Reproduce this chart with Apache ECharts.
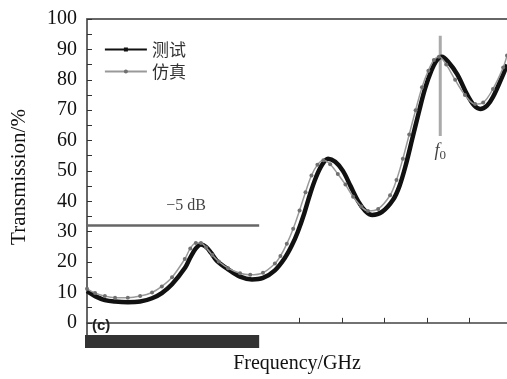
<!DOCTYPE html>
<html><head><meta charset="utf-8">
<script src="https://cdn.jsdelivr.net/npm/echarts@6/dist/echarts.min.js"></script>
<style>html,body{margin:0;padding:0;background:#fff}#c{width:507px;height:379px}</style>
</head><body><div id="c"></div>
<script>
// ---- data ----
const seriesNames = ['测试', '仿真'];
const measuredFreq = [0.00,0.19,0.42,0.66,0.96,1.25,1.53,1.76,2.00,2.31,2.43,2.56,2.68,2.80,2.92,3.05,3.32,3.60,3.88,4.14,4.42,4.66,4.82,4.96,5.11,5.25,5.39,5.53,5.67,5.84,6.02,6.20,6.38,6.55,6.71,6.94,7.20,7.35,7.50,7.65,7.80,7.95,8.10,8.23,8.35,8.49,8.71,8.94,9.11,9.25,9.41,9.55,9.79,9.88];
const measuredTrans = [10.4,8.8,7.5,7.0,6.8,7.0,8.1,9.8,12.7,18.2,21.5,24.5,25.8,25.0,23.0,20.5,17.6,15.2,14.3,14.8,17.3,21.5,25.5,30,36,42.5,48,52,54,53,50,45,40,36.8,35.5,36.5,40.5,45,52,60.5,69,77,83,86.5,87.6,86,81.8,75.2,71.5,70.4,71.5,74.3,81.8,85];
const simFreq = [0.00,0.19,0.42,0.66,0.96,1.25,1.53,1.76,2.00,2.30,2.43,2.56,2.68,2.80,2.95,3.10,3.32,3.60,3.84,4.14,4.42,4.55,4.70,4.85,5.00,5.14,5.28,5.42,5.56,5.72,5.90,6.08,6.26,6.45,6.61,6.85,7.13,7.28,7.43,7.58,7.73,7.88,8.03,8.16,8.28,8.45,8.66,8.89,9.13,9.32,9.55,9.79,9.88];
const simTrans = [11.2,9.8,8.8,8.3,8.3,8.8,10,12,15,21,24.5,26.3,26.3,24.8,22.3,20.2,18,16.3,15.8,16.5,19.5,22,26,31,37,43,48.5,52,53.5,52.2,49,45.5,41.5,38.3,36.8,37.5,42,47,54,62,70,77.5,83,86.5,87.6,85,80,75,72,72.5,77,84,88];
const yTickLabels = [0,10,20,30,40,50,60,70,80,90,100];
const yTickMarks = [0,5,10,15,20,25,30,35,40,45,50,55,60,65,70,75,80,85,90,95,100];
const xTickMarks = [5,6,7,8,9];
const dbText = '−5 dB';
const dbLevel = 32;
const dbRange = [0, 4.05];
const dbTextPos = [2.33, 38.6];
const f0Freq = 8.31;
const f0Range = [61.5, 94.5];
const f0TextY = 56.5;
const bandRange = [0, 4.05];
const xRange = [0, 9.88];
const yRange = [-4, 100];

const chart = echarts.init(document.getElementById('c'));
const zip = (a, b) => a.map((v, i) => [v, b[i]]);
const serif = 'Liberation Serif';

chart.setOption({
  animation: false,
  backgroundColor: '#fff',
  grid: { left: 87, right: 0, top: 19, bottom: 40.5 },
  legend: {
    orient: 'vertical', left: 99, top: 36,
    itemWidth: 42, itemHeight: 5, itemGap: 5,
    lineStyle: { width: 1.8 },
    textStyle: { fontFamily: 'Noto Sans CJK SC', fontSize: 17, color: '#333' },
    data: seriesNames
  },
  xAxis: [{
    type: 'value', min: xRange[0], max: xRange[1], interval: 1,
    name: 'Frequency/GHz', nameLocation: 'middle', nameGap: 19,
    nameTextStyle: { fontFamily: serif, fontSize: 20, color: '#111' },
    axisLine: { lineStyle: { color: '#444', width: 1.5 } },
    axisTick: { inside: true, length: 5, customValues: xTickMarks, lineStyle: { color: '#333' } },
    axisLabel: { show: false }, splitLine: { show: false }
  }, {
    type: 'value', position: 'top', min: xRange[0], max: xRange[1],
    axisLine: { show: true, lineStyle: { color: '#666', width: 2 } },
    axisTick: { show: false }, axisLabel: { show: false }, splitLine: { show: false }
  }],
  yAxis: {
    type: 'value', min: yRange[0], max: yRange[1],
    name: 'Transmission/%', nameLocation: 'middle', nameGap: 57,
    nameTextStyle: { fontFamily: serif, fontSize: 21, color: '#111' },
    axisLine: { show: true, lineStyle: { color: '#333', width: 1.5 } },
    axisTick: { inside: true, length: 5, customValues: yTickMarks, lineStyle: { color: '#333' } },
    axisLabel: { customValues: yTickLabels, margin: 10, fontFamily: serif, fontSize: 20, color: '#111' },
    splitLine: { show: false }
  },
  series: [
    {
      name: seriesNames[0], type: 'line', data: zip(measuredFreq, measuredTrans),
      smooth: 0.35, showSymbol: false, symbol: 'rect', symbolSize: 5,
      lineStyle: { color: '#111', width: 4.5 }, itemStyle: { color: '#111' }, z: 3
    },
    {
      name: seriesNames[1], type: 'line', data: zip(simFreq, simTrans),
      smooth: 0.35, showSymbol: true, symbol: 'circle', symbolSize: 4,
      lineStyle: { color: '#999', width: 1.5 }, itemStyle: { color: '#707070' }, z: 4
    },
    {
      type: 'line', silent: true, data: [[dbRange[0], dbLevel], [dbRange[1], dbLevel]],
      showSymbol: false, lineStyle: { color: '#666', width: 2.5 }, z: 2
    },
    {
      type: 'line', silent: true, data: [[f0Freq, f0Range[0]], [f0Freq, f0Range[1]]],
      showSymbol: false, lineStyle: { color: '#aaa', width: 3 }, z: 2
    },
    {
      type: 'scatter', silent: true, symbolSize: 0,
      data: [{ value: dbTextPos, label: { formatter: dbText } },
             { value: [f0Freq, f0TextY], label: { formatter: '{i|f}{s|0}' } }],
      label: {
        show: true, position: 'inside', color: '#111', fontFamily: serif, fontSize: 16,
        rich: { i: { fontStyle: 'italic', fontFamily: serif, fontSize: 18, color: '#111' },
                s: { fontFamily: serif, fontSize: 13, color: '#111', verticalAlign: 'bottom', padding: [8, 0, 0, 0] } }
      }
    }
  ]
});

const p0 = chart.convertToPixel({ gridIndex: 0 }, [bandRange[0], yRange[0]]);
const p1 = chart.convertToPixel({ gridIndex: 0 }, [bandRange[1], yRange[0]]);
chart.setOption({
  graphic: [
    { type: 'rect', shape: { x: p0[0] - 2, y: p0[1], width: p1[0] - p0[0] + 2, height: 13 }, style: { fill: '#333' }, z: 10 },
    { type: 'text', left: 92, top: 318, style: { text: '(c)', font: 'bold 15px "Liberation Sans"', fill: '#222' }, z: 10 }
  ]
});
</script></body></html>
